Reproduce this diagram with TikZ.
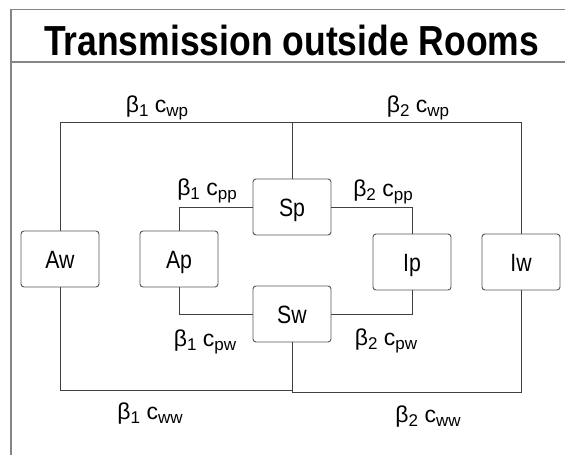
\documentclass[tikz,border=0pt]{standalone}
\usepackage{fontspec}
\usepackage{graphicx}
\setmainfont{Liberation Sans}
\definecolor{framegray}{HTML}{858585}
\definecolor{linegray}{HTML}{404040}
\definecolor{boxgray}{HTML}{555555}
\newcommand\sbsc[1]{\raisebox{-0.35ex}{\fontsize{17pt}{17pt}\selectfont #1}}
\newcommand\lab[2]{β\sbsc{#1} c\sbsc{#2}}
\newcommand\nt[1]{\scalebox{0.85}[1]{#1}}
\tikzset{
  roombox/.style={draw=boxgray, line width=0.9pt, rounded corners=3pt, minimum width=78pt, minimum height=56pt, inner sep=0pt, text height=18pt, text depth=0pt, font=\fontsize{25pt}{25pt}\selectfont},
  wire/.style={draw=linegray, line width=0.9pt},
  framel/.style={draw=framegray, line width=1.2pt},
  lbl/.style={anchor=base, inner sep=0pt, font=\fontsize{23pt}{23pt}\selectfont}
}
\begin{document}
\begin{tikzpicture}[x=1pt,y=-1pt]
\useasboundingbox (0,0) rectangle (565,455);
% frame
\coordinate (ftl) at (11,9.5);
\coordinate (ftr) at (565,9.5);
\coordinate (fbl) at (11,455);
\coordinate (fdl) at (11,62);
\coordinate (fdr) at (565,62);
\draw[framel] (ftr) -- (ftl) -- (fbl);
\draw[framel] (fdl) -- (fdr);
% title
\node[anchor=base, inner sep=0pt] (title) at (291.5,55) {\scalebox{0.845}[1]{\fontsize{42pt}{42pt}\selectfont\bfseries Transmission outside Rooms}};
% nodes
\node[roombox] (Aw) at (60,259) {\nt{Aw}};
\node[roombox] (Ap) at (179,259) {\nt{Ap}};
\node[roombox] (Sp) at (292,207) {\nt{Sp}};
\node[roombox] (Sw) at (292,314) {\nt{Sw}};
\node[roombox] (Ip) at (412,262) {\nt{Ip}};
\node[roombox] (Iw) at (521,262) {\nt{Iw}};
% helper coordinates
\coordinate (top) at (0,122);
\coordinate (bl) at (0,390);
\coordinate (br) at (0,392);
% connectors
\draw[wire] (Aw.north) -- (Aw.north |- top) -- (Iw.north |- top) -- (Iw.north);
\draw[wire] (Sp.north) -- (Sp.north |- top);
\draw[wire] (Ap.north) |- (Sp.west);
\draw[wire] (Sp.east) -| (Ip.north);
\draw[wire] (Ap.south) |- (Sw.west);
\draw[wire] (Sw.east) -| (Ip.south);
\draw[wire] (Aw.south) -- (Aw.south |- bl) -- (Sw.south |- bl);
\draw[wire] (Sw.south) -- (Sw.south |- br) -- (Iw.south |- br) -- (Iw.south);
% labels
\node[lbl] (l1) at (157,112) {\lab{1}{wp}};
\node[lbl] (l2) at (418,112) {\lab{2}{wp}};
\node[lbl] (l3) at (207,195) {\lab{1}{pp}};
\node[lbl] (l4) at (383,196) {\lab{2}{pp}};
\node[lbl] (l5) at (205,346) {\lab{1}{pw}};
\node[lbl] (l6) at (386,345) {\lab{2}{pw}};
\node[lbl] (l7) at (150,419) {\lab{1}{ww}};
\node[lbl] (l8) at (428,422) {\lab{2}{ww}};
\end{tikzpicture}
\end{document}
